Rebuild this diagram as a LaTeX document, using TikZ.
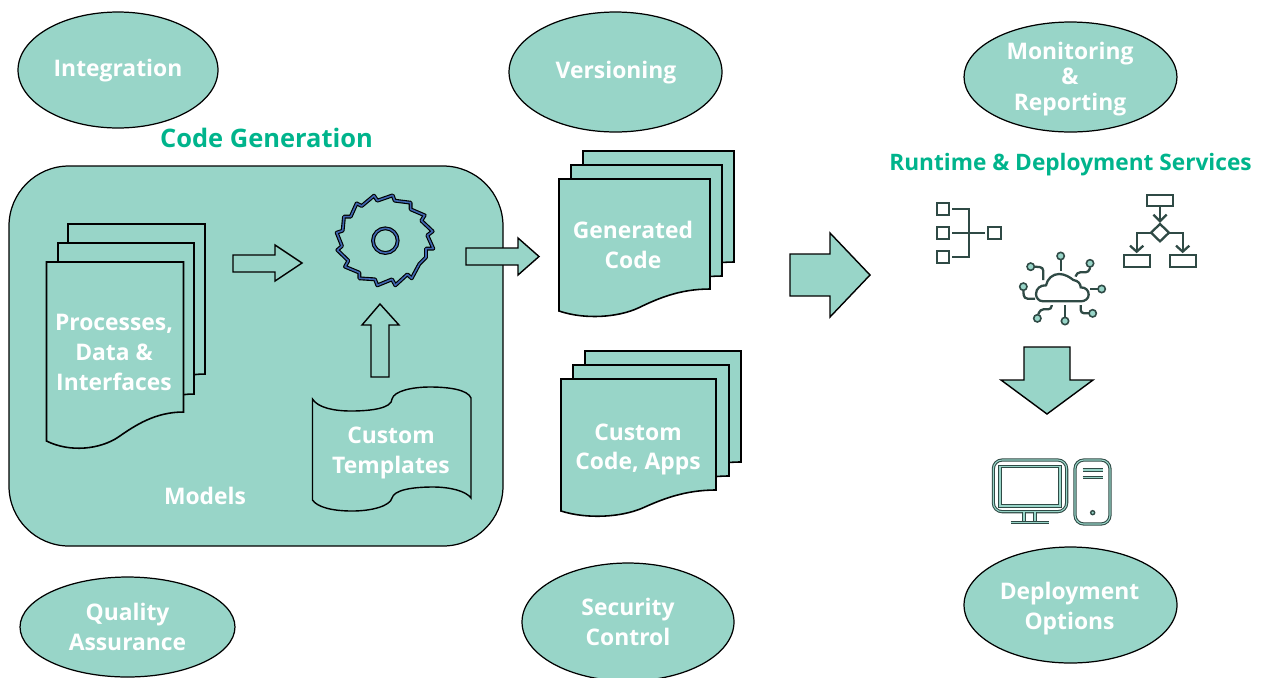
\documentclass[tikz,border=0pt]{standalone}
\usepackage{fontspec}
\setmainfont{Open Sans}
\usetikzlibrary{shapes.geometric,arrows.meta}
\definecolor{tealfill}{HTML}{98D5C8}
\definecolor{headgreen}{HTML}{00B48C}
\definecolor{icondark}{HTML}{2F4A45}
\definecolor{gearblue}{HTML}{3F66B0}
\newcommand{\sheet}[5]{
    \begin{scope}[shift={(#1,#2)},xscale=#3/137]
        \draw [fill=tealfill, line width=0.9pt] (0,0) -- (137,0) -- (137,#4)
            .. controls (109,#4) and (89,{#4+#5*0.45}) .. (72,{#4+#5*0.86})
            .. controls (54,{#4+#5*1.28}) and (24,{#4+#5*1.41}) .. (0,{#4+#5}) -- cycle;
    \end{scope}
}
\begin{document}
\begin{tikzpicture}[x=0.02cm,y=-0.02cm,
        whitetext/.style={text=white, font=\fontsize{13}{17}\selectfont\bfseries, align=center},
        bubble/.style={ellipse, draw=black, line width=0.7pt, fill=tealfill, inner sep=0pt},
        blockarrow/.style={draw=black, line width=0.8pt, fill=tealfill},
        icon/.style={draw=icondark, line width=1.3pt},
        tower/.style={draw=icondark, line width=0.6pt, double=tealfill, double distance=0.6pt}]
    \useasboundingbox (0,0) rectangle (1263,677);

    \node [bubble, minimum width=4cm, minimum height=2.32cm] (integration) at (118,70) {};
    \node [whitetext] (integrationtext) at (118,71) {Integration};
    \node [bubble, minimum width=4.26cm, minimum height=2.4cm] (versioning) at (615.5,72) {};
    \node [whitetext] (versioningtext) at (616,73) {Versioning};
    \node [bubble, minimum width=4.26cm, minimum height=2.2cm] (monitoring) at (1070.5,77) {};
    \node [whitetext, font=\fontsize{13}{14.6}\selectfont\bfseries] (monitoringtext) at (1070,79) {Monitoring\\\&\\Reporting};
    \node [bubble, minimum width=4.3cm, minimum height=2.0cm] (quality) at (127.5,627) {};
    \node [whitetext] (qualitytext) at (127.5,626.5) {Quality\\Assurance};
    \node [bubble, minimum width=4.24cm, minimum height=2.36cm] (security) at (628,622) {};
    \node [whitetext] (securitytext) at (628,622) {Security\\Control};
    \node [bubble, minimum width=4.26cm, minimum height=2.32cm] (deployment) at (1070.5,605) {};
    \node [whitetext] (deploymenttext) at (1069.5,608.5) {Deployment\\Options};

    \node [text=headgreen, font=\fontsize{14.5}{17}\selectfont\bfseries] (codegen) at (266.5,138) {Code Generation};
    \node [text=headgreen, font=\fontsize{12.9}{17}\selectfont\bfseries] (runtime) at (1070.5,165) {Runtime \& Deployment Services};

    \draw [fill=tealfill, line width=0.7pt, rounded corners=1.2cm] (9,166) rectangle (503,546);

    \sheet{68}{224}{137}{150}{29}
    \sheet{58}{243}{136}{151}{29}
    \sheet{46.5}{262}{137}{150}{29}
    \node [whitetext] (processes) at (114,352.5) {Processes,\\Data \&\\Interfaces};

    \draw [blockarrow] (233,255) -- (275,255) -- (275,245) -- (302,263) -- (275,281) -- (275,272) -- (233,272) -- cycle;
    \draw [blockarrow] (466,248) -- (518,248) -- (518,238) -- (539,256.5) -- (518,275) -- (518,265) -- (466,265) -- cycle;
    \draw [blockarrow] (371,377) -- (371,325) -- (362,325) -- (380,304) -- (399,325) -- (389,325) -- (389,377) -- cycle;
    \draw [blockarrow] (790,254) -- (830,254) -- (830,233) -- (870,275) -- (830,317) -- (830,296) -- (790,296) -- cycle;
    \draw [blockarrow] (1024,347) -- (1070,347) -- (1070,380) -- (1093,380) -- (1047,414) -- (1001,380) -- (1024,380) -- cycle;

    \begin{scope}[shift={(320,180)},scale=1/3]
        \foreach \gearcol/\gearwidth in {black/2.2pt, gearblue/0.9pt} {
            \draw [\gearcol, line width=\gearwidth, line join=round]
                (162,47) -- (172,62) -- (218,46) -- (224,62) -- (272,68) -- (272,88) -- (314,106) -- (304,122)
                -- (338,154) -- (322,166) -- (340,206) -- (318,206) -- (318,232) -- (298,252) -- (275,295)
                -- (262,283) -- (226,316) -- (216,298) -- (172,316) -- (165,298) -- (118,295) -- (118,278)
                -- (75,260) -- (85,242) -- (52,210) -- (66,198) -- (50,158) -- (68,152) -- (72,110) -- (92,110)
                -- (110,70) -- (125,78) -- cycle;
            \draw [\gearcol, line width=\gearwidth] (196,182) circle (37);
        }
    \end{scope}

    \draw [fill=tealfill, line width=0.8pt] (312.5,399)
        .. controls (318,408) and (335,411) .. (351,411)
        .. controls (372,411) and (392,408) .. (392,399)
        .. controls (394,391) and (412,387) .. (430,387)
        .. controls (450,387) and (468,390) .. (471,398)
        -- (471,498)
        .. controls (466,491) and (450,487) .. (433,487)
        .. controls (412,487) and (394,490) .. (392,498)
        .. controls (390,506) and (372,511) .. (352,511)
        .. controls (332,511) and (317,507) .. (312.5,500) -- cycle;
    \node [whitetext] (templates) at (391,453) {Custom\\Templates};
    \node [whitetext] (models) at (205,496) {Models};

    \sheet{583}{151}{151}{111}{22}
    \sheet{571}{165}{151}{111}{22}
    \sheet{559}{179}{151}{110}{22}
    \node [whitetext] (generated) at (633,245) {Generated\\Code};

    \sheet{585}{351}{156}{111}{21}
    \sheet{573}{365}{156}{111}{21}
    \sheet{561}{379}{155}{111}{21}
    \node [whitetext] (customcode) at (638,449.5) {Custom\\Code, Apps};

    \begin{scope}[shift={(910,180)},scale=1/3]
        % tree
        \foreach \boxy in {87,158,230}
            \draw [icon] (80,\boxy-18) rectangle (117,\boxy+18);
        \draw [icon] (235,140) rectangle (272,176);
        \draw [icon] (127,87) -- (176,87) -- (176,230) -- (127,230);
        \draw [icon] (127,158) -- (225,158);
        % flow
        \draw [icon] (710,45) rectangle (790,78);
        \draw [icon] (750,78) -- (750,124);
        \draw [icon] (730,104) -- (750,124) -- (770,104);
        \draw [icon] (750,132) -- (777,158) -- (750,184) -- (723,158) -- cycle;
        \draw [icon] (723,158) -- (680,158) -- (680,215);
        \draw [icon] (660,197) -- (680,215) -- (700,197);
        \draw [icon] (777,158) -- (818,158) -- (818,215);
        \draw [icon] (798,197) -- (818,215) -- (838,197);
        \draw [icon] (642,225) rectangle (720,260);
        \draw [icon] (780,225) rectangle (858,260);
        % cloud
        \draw [icon] (400,364) .. controls (385,364) and (378,352) .. (378,342)
            .. controls (378,325) and (392,315) .. (408,316)
            .. controls (412,296) and (428,282) .. (447,282)
            .. controls (465,282) and (480,292) .. (490,300)
            .. controls (505,302) and (512,312) .. (512,322)
            .. controls (528,322) and (536,332) .. (536,344)
            .. controls (536,356) and (525,364) .. (512,364) -- cycle;
        \draw [icon] (452,240) -- (452,272);
        \draw [icon, rounded corners=2pt] (540,262) -- (537,277) -- (500,277) -- (497,290);
        \draw [icon] (563,327) -- (540,327);
        \draw [icon, rounded corners=2pt] (537,400) -- (512,400) -- (512,375);
        \draw [icon] (465,411) -- (465,375);
        \draw [icon, rounded corners=2pt] (385,403) -- (390,388) -- (425,388) -- (425,375);
        \draw [icon, rounded corners=2pt] (340,332) -- (342,356) -- (375,356);
        \draw [icon, rounded corners=2pt] (373,260) -- (400,262) -- (400,300);
        \foreach \tipx/\tipy in {452/228,540/250,575/327,548/400,465/423,382/415,340/320,362/260}
            \draw [icon, line width=0.9pt, fill=tealfill] (\tipx,\tipy) circle (11);
    \end{scope}

    \begin{scope}[shift={(980,450)},scale=1/3]
        \draw [tower, rounded corners=5pt] (40,30) rectangle (260,185);
        \draw [tower, fill=white] (60,50) rectangle (240,168);
        \draw [tower] (132,185) -- (132,218);
        \draw [tower] (165,185) -- (165,218);
        \draw [tower] (92,218) -- (208,218);
        \draw [tower, rounded corners=5pt] (285,30) rectangle (390,222);
        \draw [tower] (308,60) -- (368,60);
        \draw [tower] (308,83) -- (368,83);
        \draw [icon, line width=0.8pt, fill=tealfill] (338,188) circle (6);
    \end{scope}
\end{tikzpicture}
\end{document}
